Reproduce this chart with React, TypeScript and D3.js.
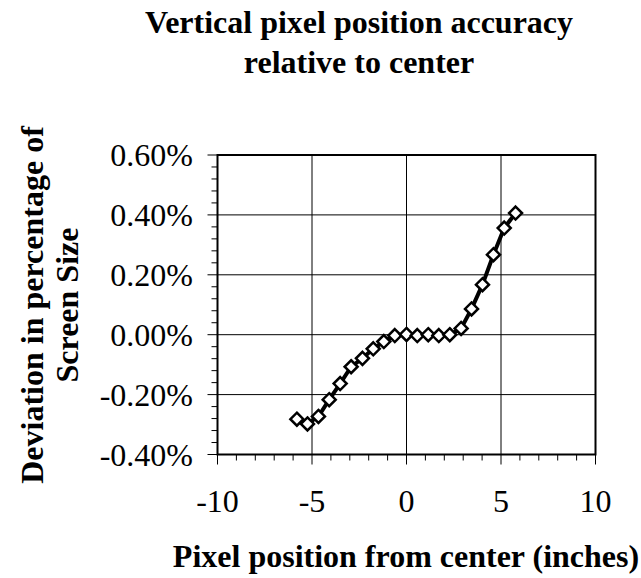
import React from "react";
import * as d3 from "d3";

const titleLines = ["Vertical pixel position accuracy", "relative to center"];
const xTitle = "Pixel position from center (inches)";
const yTitleLines = ["Deviation in percentage of", "Screen Size"];

const xTicks = [-10, -5, 0, 5, 10];
const yTicks = [-0.004, -0.002, 0, 0.002, 0.004, 0.006];

// pixel position (inches)
const xValues = [
  -5.8, -5.24, -4.66, -4.09, -3.51, -2.93, -2.33, -1.76, -1.2, -0.62, 0, 0.57,
  1.15, 1.71, 2.29, 2.89, 3.44, 4.02, 4.6, 5.17, 5.77,
];
// deviation (fraction of screen size)
const yValues = [
  -0.00282, -0.00298, -0.00273, -0.00217, -0.00163, -0.00107, -0.00079,
  -0.00047, -0.00023, -0.00003, 0.00001, -0.00003, 0.0, -0.00003, 0.0,
  0.00021, 0.00086, 0.00167, 0.00267, 0.00356, 0.00406,
];

const W = 641;
const H = 578;
const plot = { left: 217.5, right: 595.5, top: 155, bottom: 454.5 };
const FONT = "'Liberation Serif', 'Times New Roman', Times, serif";

export default function App() {
  const x = d3.scaleLinear().domain([-10, 10]).range([plot.left, plot.right]);
  const y = d3.scaleLinear().domain([-0.004, 0.006]).range([plot.bottom, plot.top]);

  const fmt = (v: number) => d3.format(".2%")(v).replace("\u2212", "-");

  const xMinor = d3.range(-10, 10.001, 1);
  const yMinor = d3.range(-0.004, 0.00601, 0.0004);

  const pts = xValues.map((xv, i) => [xv, yValues[i]] as [number, number]);
  const line = d3
    .line<[number, number]>()
    .x((d) => x(d[0]))
    .y((d) => y(d[1]));

  const r = 6.5;
  const diamond = (cx: number, cy: number) =>
    `M${cx},${cy - r}L${cx + r},${cy}L${cx},${cy + r}L${cx - r},${cy}Z`;

  return (
    <svg
      width={W}
      height={H}
      style={{ position: "absolute", left: 0, top: 0, background: "#fff" }}
      fontFamily={FONT}
    >
      <rect x={0} y={0} width={W} height={H} fill="#fff" />
      {/* gridlines */}
      {xTicks.map((t) => (
        <line key={"gx" + t} x1={x(t)} x2={x(t)} y1={plot.top} y2={plot.bottom} stroke="#000" strokeWidth={1} />
      ))}
      {yTicks.map((t) => (
        <line key={"gy" + t} x1={plot.left} x2={plot.right} y1={y(t)} y2={y(t)} stroke="#000" strokeWidth={1} />
      ))}
      {/* minor ticks */}
      {xMinor.map((t) => (
        <line key={"mx" + t} x1={x(t)} x2={x(t)} y1={plot.bottom} y2={plot.bottom + (Math.abs(t % 5) < 1e-9 ? 10 : 6)} stroke="#000" strokeWidth={1} />
      ))}
      {yMinor.map((t, i) => (
        <line key={"my" + i} x1={plot.left - (i % 5 === 0 ? 10 : 6)} x2={plot.left} y1={y(t)} y2={y(t)} stroke="#000" strokeWidth={1} />
      ))}
      {/* frame */}
      <rect
        x={plot.left}
        y={plot.top}
        width={plot.right - plot.left}
        height={plot.bottom - plot.top}
        fill="none"
        stroke="#000"
        strokeWidth={2}
      />
      {/* tick labels */}
      {xTicks.map((t) => (
        <text key={"tx" + t} x={x(t)} y={512} textAnchor="middle" fontSize={32}>
          {t < 0 ? "-" + Math.abs(t) : String(t)}
        </text>
      ))}
      {yTicks.map((t) => (
        <text key={"ty" + t} x={193} y={y(t)} dy="0.35em" textAnchor="end" fontSize={32}>
          {fmt(t)}
        </text>
      ))}
      {/* series */}
      <path d={line(pts) || ""} fill="none" stroke="#000" strokeWidth={4} strokeLinejoin="round" />
      {pts.map((p, i) => (
        <path key={"pt" + i} d={diamond(x(p[0]), y(p[1]))} fill="#fff" stroke="#000" strokeWidth={2.5} />
      ))}
      {/* titles */}
      {titleLines.map((s, i) => (
        <text key={"t" + i} x={359} y={33 + i * 39.5} textAnchor="middle" fontSize={32} fontWeight="bold">
          {s}
        </text>
      ))}
      <text x={406} y={567} textAnchor="middle" fontSize={32} fontWeight="bold">
        {xTitle}
      </text>
      {yTitleLines.map((s, i) => (
        <text
          key={"yt" + i}
          transform={`translate(${43 + i * 35},${305}) rotate(-90)`}
          textAnchor="middle"
          fontSize={32}
          fontWeight="bold"
        >
          {s}
        </text>
      ))}
    </svg>
  );
}
